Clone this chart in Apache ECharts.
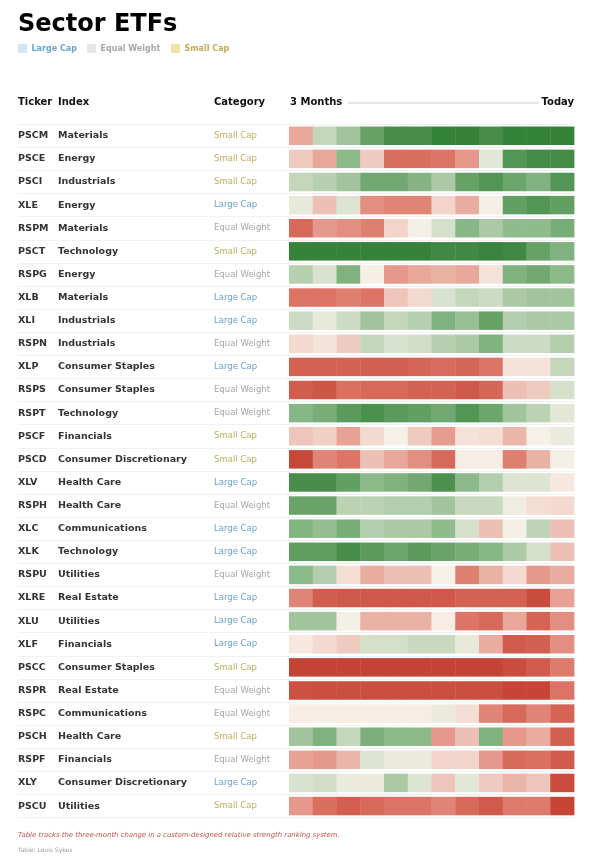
<!DOCTYPE html>
<html>
<head>
<meta charset="utf-8">
<script src="https://cdn.jsdelivr.net/npm/echarts@6/dist/echarts.min.js"></script>
<style>
html,body{margin:0;padding:0;background:#fff;}
#chart{width:591px;height:860px;}
</style>
</head>
<body>
<div id="chart"></div>
<script>
// ---- data ----
var tickers = ['PSCM','PSCE','PSCI','XLE','RSPM','PSCT','RSPG','XLB','XLI','RSPN','XLP','RSPS','RSPT','PSCF','PSCD','XLV','RSPH','XLC','XLK','RSPU','XLRE','XLU','XLF','PSCC','RSPR','RSPC','PSCH','RSPF','XLY','PSCU'];
var indexNames = ['Materials','Energy','Industrials','Energy','Materials','Technology','Energy','Materials','Industrials','Industrials','Consumer Staples','Consumer Staples','Technology','Financials','Consumer Discretionary','Health Care','Health Care','Communications','Technology','Utilities','Real Estate','Utilities','Financials','Consumer Staples','Real Estate','Communications','Health Care','Financials','Consumer Discretionary','Utilities'];
var categories = ['Small Cap','Small Cap','Small Cap','Large Cap','Equal Weight','Small Cap','Equal Weight','Large Cap','Large Cap','Equal Weight','Large Cap','Equal Weight','Equal Weight','Small Cap','Small Cap','Large Cap','Equal Weight','Large Cap','Large Cap','Equal Weight','Large Cap','Large Cap','Large Cap','Small Cap','Equal Weight','Equal Weight','Small Cap','Equal Weight','Large Cap','Small Cap'];
var weeks = ['W1','W2','W3','W4','W5','W6','W7','W8','W9','W10','W11','W12'];
var legendItems = ['Large Cap','Equal Weight','Small Cap'];
// relative strength score per week (negative = weak/red, positive = strong/green)
var strength = [
  [-1.5, 1.2, 2.0, 3.5, 4.3, 4.3, 4.8, 4.8, 4.3, 4.8, 4.8, 4.8],
  [-0.8,-1.5, 2.5,-0.8,-2.8,-2.8,-2.5,-1.8, 0.5, 4.0, 4.4, 4.4],
  [ 1.2, 1.5, 2.0, 3.2, 3.2, 2.7, 1.8, 3.5, 4.0, 3.3, 2.8, 4.0],
  [ 0.4,-1.0, 0.6,-2.0,-2.2,-2.2,-0.6,-1.4, 0.1, 3.6, 4.0, 3.6],
  [-3.0,-1.8,-2.0,-2.3,-0.6, 0.1, 0.8, 2.6, 1.8, 2.4, 2.4, 3.0],
  [ 4.8, 4.8, 4.8, 4.8, 4.8, 4.8, 4.5, 4.5, 4.7, 4.5, 3.5, 2.8],
  [ 1.5, 0.7, 2.8, 0.1,-1.8,-1.5,-1.3,-1.5,-0.3, 2.8, 3.2, 2.5],
  [-2.6,-2.6,-2.3,-2.6,-0.9,-0.5, 0.7, 1.2, 1.0, 1.8, 2.0, 2.0],
  [ 1.0, 0.4, 1.0, 2.0, 1.2, 1.5, 2.8, 2.2, 3.5, 1.6, 1.8, 1.8],
  [-0.5,-0.3,-0.8, 1.2, 0.7, 0.9, 1.5, 1.8, 2.8, 1.0, 1.0, 1.6],
  [-3.3,-3.3,-3.3,-3.4,-3.4,-3.1,-2.9,-3.1,-2.5,-0.3,-0.3, 1.2],
  [-3.5,-3.8,-2.7,-3.0,-3.0,-3.3,-3.3,-3.7,-3.1,-1.0,-0.8, 0.8],
  [ 2.6, 3.0, 3.8, 4.2, 3.8, 3.6, 3.2, 4.0, 3.3, 2.0, 1.4, 0.5],
  [-0.9,-0.7,-1.6,-0.5, 0.05,-0.8,-1.7,-0.3,-0.4,-1.2, 0.05, 0.3],
  [-4.4,-2.2,-2.5,-1.0,-1.5,-2.0,-3.0,-0.1,-0.1,-2.3,-1.3, 0.1],
  [ 4.3, 4.3, 3.6, 2.5, 2.8, 3.2, 4.2, 2.5, 1.6, 0.6, 0.6,-0.2],
  [ 3.4, 3.4, 1.4, 1.4, 1.6, 1.6, 2.0, 1.1, 1.1, 0.2,-0.4,-0.5],
  [ 2.7, 2.3, 3.0, 1.6, 1.8, 1.8, 2.4, 0.8,-1.0, 0.1, 1.3,-1.0],
  [ 3.7, 3.7, 4.3, 3.8, 3.3, 3.8, 3.4, 3.0, 2.6, 1.7, 0.8,-1.0],
  [ 2.5, 1.6,-0.4,-1.4,-1.0,-1.0, 0.05,-2.3,-1.3,-0.5,-1.8,-1.4],
  [-2.2,-3.5,-3.7,-3.7,-3.7,-3.7,-3.7,-3.3,-3.3,-3.3,-4.2,-1.6],
  [ 2.0, 2.0, 0.1,-1.3,-1.3,-1.3,-0.1,-2.5,-3.0,-1.5,-3.2,-2.0],
  [-0.2,-0.5,-0.8, 0.8, 0.8, 1.1, 1.1, 0.4,-1.4,-3.6,-3.4,-2.0],
  [-4.6,-4.6,-4.6,-4.6,-4.6,-4.6,-4.6,-4.6,-4.6,-4.2,-3.6,-2.4],
  [-4.0,-4.1,-4.1,-4.1,-4.1,-4.1,-4.1,-4.1,-4.1,-4.5,-4.5,-2.6],
  [-0.1,-0.1,-0.1,-0.1,-0.1,-0.1, 0.3,-0.4,-2.2,-3.0,-2.2,-3.2],
  [ 2.0, 2.8, 1.2, 2.9, 2.5, 2.5,-1.8,-1.0, 2.8,-1.8,-1.4,-3.4],
  [-1.6,-1.8,-1.2, 0.6, 0.3, 0.3,-0.6,-0.6,-1.8,-3.0,-2.7,-3.6],
  [ 0.7, 0.9, 0.3, 0.3, 1.8, 0.6,-0.9, 0.5,-0.8,-1.2,-0.9,-4.2],
  [-1.8,-2.8,-3.4,-3.0,-2.6,-2.6,-2.2,-3.0,-3.6,-2.4,-2.4,-4.5]
];

// ---- build ----
var catKey = {'Large Cap':'lc','Equal Weight':'ew','Small Cap':'sc'};
var catColor = {'Large Cap':'#6aa3cf','Equal Weight':'#a6a6a6','Small Cap':'#c0ad5a'};
var swatch = {'Large Cap':'#d3e4f3','Equal Weight':'#e6e6e6','Small Cap':'#efe3a6'};

var cells = [];
strength.forEach(function(row, r){
  row.forEach(function(v, c){ cells.push([c, r, v]); });
});

var FONT = 'DejaVu Sans';
var GTOP = 124.2, GH = 693.4;

var graphics = [
  {type:'text', left:18, top:13, style:{text:'Sector ETFs', font:'bold 24px "DejaVu Sans"', fill:'#000'}},
];
var lx = [18, 87, 171];
legendItems.forEach(function(name, i){
  graphics.push({type:'rect', shape:{x:lx[i], y:44, width:9, height:9}, style:{fill:swatch[name]}});
  graphics.push({type:'text', x:lx[i]+13.5, y:48.5, style:{text:name, font:'bold 8px "DejaVu Sans"', fill:catColor[name], textVerticalAlign:'middle'}});
});
var hy = 102.7;
[['Ticker',18],['Index',58],['Category',214],['3 Months',290]].forEach(function(h){
  graphics.push({type:'text', x:h[1], y:hy, style:{text:h[0], font:'bold 10px "DejaVu Sans"', fill:'#111', textVerticalAlign:'middle'}});
});
graphics.push({type:'text', x:574, y:hy, style:{text:'Today', font:'bold 10px "DejaVu Sans"', fill:'#111', textAlign:'right', textVerticalAlign:'middle'}});
graphics.push({type:'line', shape:{x1:348, y1:103, x2:539, y2:103}, style:{stroke:'#cccccc', lineWidth:1}});
graphics.push({type:'text', x:18, y:835.5, style:{text:'Table tracks the three-month change in a custom-designed relative strength ranking system.', font:'italic 6.9px "DejaVu Sans"', fill:'#c0504d', textVerticalAlign:'middle'}});
graphics.push({type:'text', x:18, y:850.7, style:{text:'Table: Louis Sykes', font:'6px "DejaVu Sans"', fill:'#999999', textVerticalAlign:'middle'}});

var rich = {
  t:{fontFamily:FONT, fontWeight:'bold', fontSize:9.5, color:'#333', width:40},
  i:{fontFamily:FONT, fontWeight:'bold', fontSize:9.5, color:'#333', width:156},
  lc:{fontFamily:FONT, fontSize:8.5, color:catColor['Large Cap']},
  ew:{fontFamily:FONT, fontSize:8.5, color:catColor['Equal Weight']},
  sc:{fontFamily:FONT, fontSize:8.5, color:catColor['Small Cap']}
};

var chart = echarts.init(document.getElementById('chart'), null, {renderer:'canvas'});
chart.setOption({
  backgroundColor:'#ffffff',
  animation:false,
  textStyle:{fontFamily:FONT},
  graphic:graphics,
  grid:[
    {left:18, width:556, top:GTOP, height:GH},
    {left:289, width:285, top:GTOP, height:GH}
  ],
  xAxis:[
    {gridIndex:0, type:'value', min:0, max:1, show:false},
    {gridIndex:1, type:'category', data:weeks, show:false}
  ],
  yAxis:[
    {gridIndex:0, type:'category', data:tickers, inverse:true,
     axisLine:{show:false}, axisTick:{show:false},
     splitLine:{show:true, lineStyle:{color:'#f1f1f1', width:1}},
     axisLabel:{inside:true, margin:0, interval:0, align:'left',
       formatter:function(v, idx){
         return '{t|'+v+'}{i|'+indexNames[idx]+'}{'+catKey[categories[idx]]+'|'+categories[idx]+'}';
       }, rich:rich}},
    {gridIndex:1, type:'category', data:tickers, inverse:true, show:false}
  ],
  visualMap:{show:false, type:'continuous', min:-5, max:5, dimension:2, seriesIndex:0,
    inRange:{color:['#c0392b','#dd7566','#f8f2e9','#8bb989','#2e7d32']}},
  series:[{
    type:'custom', xAxisIndex:1, yAxisIndex:1, data:cells,
    renderItem:function(params, api){
      var p = api.coord([api.value(0), api.value(1)]);
      var s = api.size([1,1]);
      var h = s[1]*0.8;
      return {type:'rect', shape:{x:p[0]-s[0]/2, y:p[1]-h/2, width:s[0]+0.4, height:h},
        style:{fill:api.visual('color')}};
    }
  }]
});
</script>
</body>
</html>
